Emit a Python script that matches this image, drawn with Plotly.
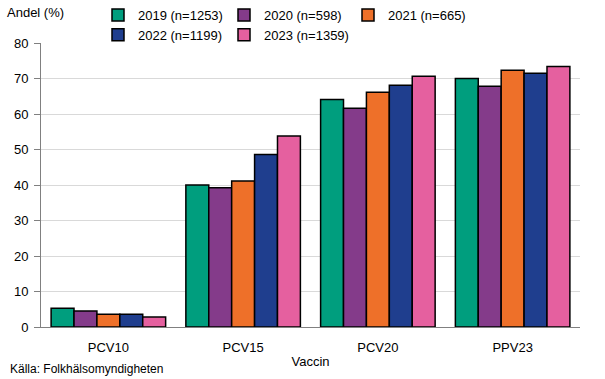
import plotly.graph_objects as go

categories = ["PCV10", "PCV15", "PCV20", "PPV23"]
series_names = ["2019 (n=1253)", "2020 (n=598)", "2021 (n=665)", "2022 (n=1199)", "2023 (n=1359)"]
v2019 = [5.3, 40.0, 64.1, 70.0]
v2020 = [4.5, 39.2, 61.6, 67.8]
v2021 = [3.6, 41.1, 66.1, 72.3]
v2022 = [3.6, 48.6, 68.1, 71.5]
v2023 = [2.8, 53.8, 70.6, 73.4]
colors = ["#009E7E", "#843B8A", "#EE7029", "#1F3E8E", "#E5609F"]
yticks = [0, 10, 20, 30, 40, 50, 60, 70, 80]
legend_ids = ["legend", "legend2", "legend3", "legend", "legend2"]
legend_x_px = {"legend": 98, "legend2": 224, "legend3": 348}

FONT = "Tahoma, Liberation Sans, Arial, sans-serif"
L, R, T, B = 41, 25, 43, 52
W, H = 605, 379
PW, PH = W - L - R, H - T - B


def px_x(px):
    return (px - L) / PW


def px_y(py):
    return (H - B - py) / PH


fig = go.Figure()
for name, vals, col, lg in zip(series_names, [v2019, v2020, v2021, v2022, v2023], colors, legend_ids):
    fig.add_trace(go.Bar(x=categories, y=vals, name=name, legend=lg,
                         marker=dict(color=col, line=dict(color="black", width=1.5))))

leg_common = dict(orientation="v", xref="container", yref="container",
                  xanchor="left", yanchor="top", y=1 + 2/379,
                  itemwidth=30, font=dict(size=13), traceorder="normal",
                  bgcolor="rgba(0,0,0,0)", tracegroupgap=0)

fig.update_layout(
    width=W, height=H,
    margin=dict(l=L, r=R, t=T, b=B, autoexpand=False),
    plot_bgcolor="white", paper_bgcolor="white",
    font=dict(family=FONT, size=13, color="#000"),
    barmode="group", bargap=0.15, bargroupgap=0,
    showlegend=True,
    legend=dict(leg_common, x=legend_x_px["legend"] / W),
    legend2=dict(leg_common, x=legend_x_px["legend2"] / W),
    legend3=dict(leg_common, x=legend_x_px["legend3"] / W),
    xaxis=dict(showline=True, linecolor="#808080", linewidth=1, ticks="",
               ticklabelstandoff=8,
               tickfont=dict(size=13), title=dict(text="Vaccin", font=dict(size=13), standoff=3)),
    yaxis=dict(range=[0, 80], tickvals=yticks, showline=True, linecolor="#808080", linewidth=1,
               ticks="outside", tickcolor="#808080", ticklen=6, ticklabelstandoff=3,
               showgrid=True, gridcolor="#D9D9D9", gridwidth=1, zeroline=False,
               tickfont=dict(size=13)),
    annotations=[
        dict(text="Andel (%)", xref="paper", yref="paper", x=px_x(5), y=px_y(13),
             xanchor="left", yanchor="middle", showarrow=False, font=dict(size=13)),
        dict(text="Källa: Folkhälsomyndigheten", xref="paper", yref="paper",
             x=px_x(8), y=px_y(369), xanchor="left", yanchor="middle", showarrow=False,
             font=dict(size=12)),
    ],
)

fig.write_html("out.html", config={"displayModeBar": False},
               post_script="document.body.style.margin='0';")
